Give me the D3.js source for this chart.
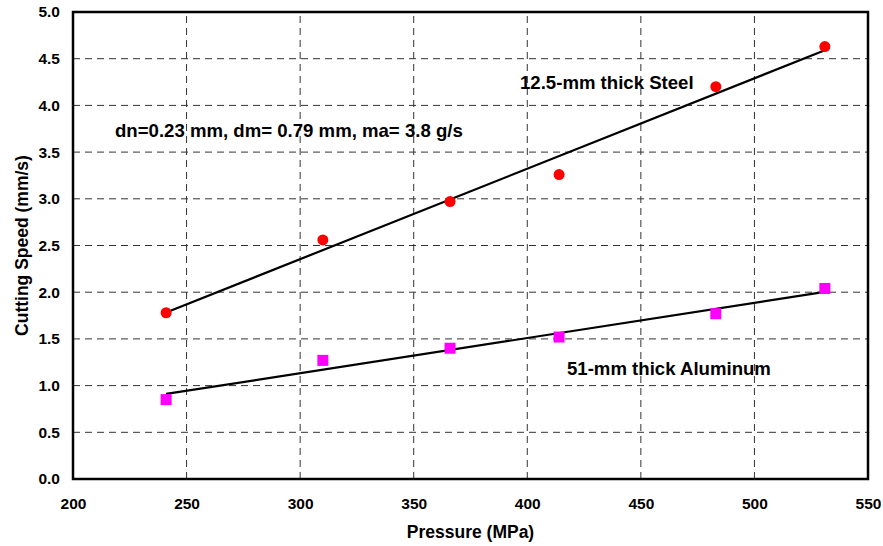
<!DOCTYPE html>
<html>
<head>
<meta charset="utf-8">
<script src="https://cdn.jsdelivr.net/npm/d3@7"></script>
<style>
  body { margin: 0; background: #fff; }
  svg text { font-family: "Liberation Sans", Arial, sans-serif; font-weight: bold; fill: #000; }
</style>
</head>
<body>
<div id="chart"></div>
<script>
// pressure (MPa) for each test
const pressure = [241, 310, 366, 414, 483, 531];
// cutting speed (mm/s)
const steelSpeed = [1.78, 2.56, 2.97, 3.26, 4.20, 4.63];
const aluminumSpeed = [0.85, 1.27, 1.40, 1.52, 1.77, 2.04];

const xTicks = [200, 250, 300, 350, 400, 450, 500, 550];
const yTicks = [0, 0.5, 1, 1.5, 2, 2.5, 3, 3.5, 4, 4.5, 5];

const labels = {
    steel: "12.5-mm thick Steel",
    aluminum: "51-mm thick Aluminum",
    params: "dn=0.23 mm, dm= 0.79 mm, ma= 3.8 g/s",
    xTitle: "Pressure (MPa)",
    yTitle: "Cutting Speed (mm/s)"
};

const width = 883, height = 546;
const margin = {top: 12, right: 15, bottom: 67, left: 73};

const svg = d3.select("#chart").append("svg")
    .attr("width", width)
    .attr("height", height);

const x = d3.scaleLinear().domain([200, 550]).range([margin.left, width - margin.right]);
const y = d3.scaleLinear().domain([0, 5]).range([height - margin.bottom, margin.top]);

// grid lines
svg.append("g")
    .selectAll("line")
    .data(yTicks.slice(1, -1))
    .join("line")
    .attr("x1", x(200)).attr("x2", x(550))
    .attr("y1", d => y(d)).attr("y2", d => y(d))
    .attr("stroke", "#333")
    .attr("stroke-width", 1)
    .attr("stroke-dasharray", "7,5");

svg.append("g")
    .selectAll("line")
    .data(xTicks.slice(1, -1))
    .join("line")
    .attr("x1", d => x(d)).attr("x2", d => x(d))
    .attr("y1", y(0)).attr("y2", y(5))
    .attr("stroke", "#333")
    .attr("stroke-width", 1)
    .attr("stroke-dasharray", "7,5");

// axes
const xAxis = d3.axisBottom(x).tickValues(xTicks).tickSize(0).tickPadding(19).tickFormat(d3.format("d"));
const yAxis = d3.axisLeft(y).tickValues(yTicks).tickSize(0).tickPadding(13).tickFormat(d3.format(".1f"));

const gx = svg.append("g").attr("transform", `translate(0,${y(0)})`).call(xAxis);
const gy = svg.append("g").attr("transform", `translate(${x(200)},0)`).call(yAxis);
[gx, gy].forEach(g => {
    g.select(".domain").remove();
    g.selectAll("text").style("font-size", "15.5px").attr("fill", "#000");
});

// linear fit
function fit(xs, ys) {
    const mx = d3.mean(xs), my = d3.mean(ys);
    let sxy = 0, sxx = 0;
    xs.forEach((v, i) => { sxy += (v - mx) * (ys[i] - my); sxx += (v - mx) * (v - mx); });
    const b = sxy / sxx;
    const a = my - b * mx;
    const x0 = d3.min(xs), x1 = d3.max(xs);
    return [[x0, a + b * x0], [x1, a + b * x1]];
}

const line = d3.line().x(d => x(d[0])).y(d => y(d[1]));

[steelSpeed, aluminumSpeed].forEach(ys => {
    svg.append("path")
        .attr("d", line(fit(pressure, ys)))
        .attr("fill", "none")
        .attr("stroke", "#000")
        .attr("stroke-width", 2.2);
});

// markers
svg.append("g")
    .selectAll("circle")
    .data(pressure.map((p, i) => [p, steelSpeed[i]]))
    .join("circle")
    .attr("cx", d => x(d[0]))
    .attr("cy", d => y(d[1]))
    .attr("r", 5.5)
    .attr("fill", "#ff0000");

const sq = 11;
svg.append("g")
    .selectAll("rect")
    .data(pressure.map((p, i) => [p, aluminumSpeed[i]]))
    .join("rect")
    .attr("x", d => x(d[0]) - sq / 2)
    .attr("y", d => y(d[1]) - sq / 2)
    .attr("width", sq)
    .attr("height", sq)
    .attr("fill", "#ff00ff");

// plot frame
svg.append("rect")
    .attr("x", x(200)).attr("y", y(5))
    .attr("width", x(550) - x(200))
    .attr("height", y(0) - y(5))
    .attr("fill", "none")
    .attr("stroke", "#000")
    .attr("stroke-width", 2.5);

// annotations
svg.append("text").attr("x", 520).attr("y", 89).style("font-size", "18.6px").text(labels.steel);
svg.append("text").attr("x", 115).attr("y", 137).style("font-size", "18.6px").text(labels.params);
svg.append("text").attr("x", 567).attr("y", 375).style("font-size", "18.6px").text(labels.aluminum);

// axis titles
svg.append("text")
    .attr("x", (x(200) + x(550)) / 2)
    .attr("y", 538)
    .attr("text-anchor", "middle")
    .style("font-size", "17.5px")
    .text(labels.xTitle);

svg.append("text")
    .attr("transform", `translate(28,${(y(0) + y(5)) / 2}) rotate(-90)`)
    .attr("text-anchor", "middle")
    .style("font-size", "17.5px")
    .text(labels.yTitle);
</script>
</body>
</html>
